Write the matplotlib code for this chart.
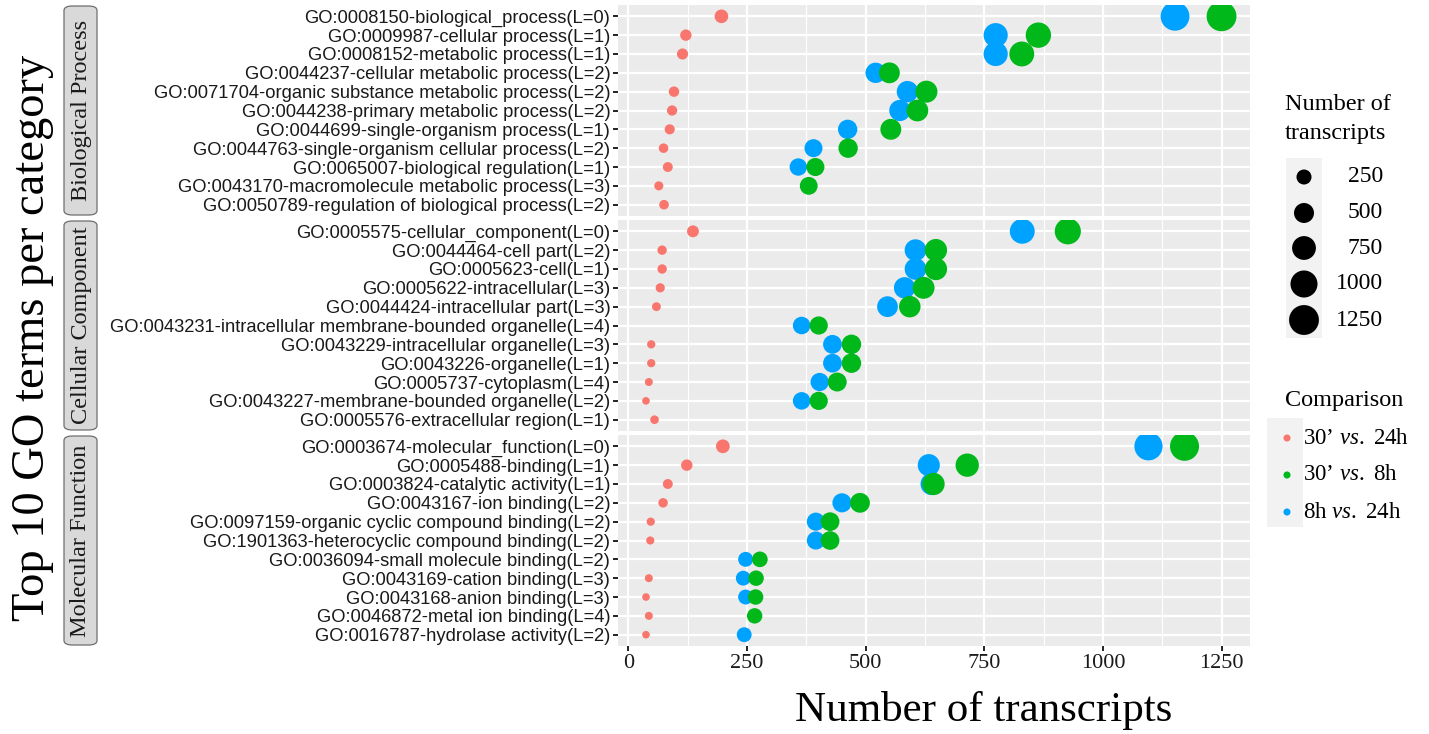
import numpy as np
import matplotlib
matplotlib.use("Agg")
import matplotlib.pyplot as plt
from matplotlib.patches import FancyBboxPatch

nan = np.nan

# --- данные: по 11 терминов GO на категорию ---
categories = ["Biological Process", "Cellular Component", "Molecular Function"]

terms_bp = ["GO:0008150-biological_process(L=0)",
            "GO:0009987-cellular process(L=1)",
            "GO:0008152-metabolic process(L=1)",
            "GO:0044237-cellular metabolic process(L=2)",
            "GO:0071704-organic substance metabolic process(L=2)",
            "GO:0044238-primary metabolic process(L=2)",
            "GO:0044699-single-organism process(L=1)",
            "GO:0044763-single-organism cellular process(L=2)",
            "GO:0065007-biological regulation(L=1)",
            "GO:0043170-macromolecule metabolic process(L=3)",
            "GO:0050789-regulation of biological process(L=2)"]
red_bp = [196, 121, 114, nan, 96, 92, 87, 74, 83, 64, 75]
blue_bp = [1152, 774, 774, 521, 588, 572, 462, 390, 358, nan, nan]
green_bp = [1250, 864, 829, 550, 628, 609, 553, 463, 394, 380, nan]

terms_cc = ["GO:0005575-cellular_component(L=0)",
            "GO:0044464-cell part(L=2)",
            "GO:0005623-cell(L=1)",
            "GO:0005622-intracellular(L=3)",
            "GO:0044424-intracellular part(L=3)",
            "GO:0043231-intracellular membrane-bounded organelle(L=4)",
            "GO:0043229-intracellular organelle(L=3)",
            "GO:0043226-organelle(L=1)",
            "GO:0005737-cytoplasm(L=4)",
            "GO:0043227-membrane-bounded organelle(L=2)",
            "GO:0005576-extracellular region(L=1)"]
red_cc = [136, 71, 71, 67, 59, nan, 48, 48, 43, 37, 55]
blue_cc = [830, 605, 605, 582, 546, 365, 430, 430, 403, 365, nan]
green_cc = [926, 648, 648, 622, 593, 401, 470, 470, 440, 401, nan]

terms_mf = ["GO:0003674-molecular_function(L=0)",
            "GO:0005488-binding(L=1)",
            "GO:0003824-catalytic activity(L=1)",
            "GO:0043167-ion binding(L=2)",
            "GO:0097159-organic cyclic compound binding(L=2)",
            "GO:1901363-heterocyclic compound binding(L=2)",
            "GO:0036094-small molecule binding(L=2)",
            "GO:0043169-cation binding(L=3)",
            "GO:0043168-anion binding(L=3)",
            "GO:0046872-metal ion binding(L=4)",
            "GO:0016787-hydrolase activity(L=2)"]
red_mf = [199, 123, 83, 73, 47, 46, nan, 43, 37, 43, 37]
blue_mf = [1096, 633, 639, 450, 395, 395, 247, 242, 247, nan, 244]
green_mf = [1172, 714, 643, 488, 425, 425, 277, 269, 268, 266, nan]

comparisons = ["30\u2019 vs. 24h", "30\u2019 vs. 8h", "8h vs. 24h"]
size_breaks = [250, 500, 750, 1000, 1250]
x_ticks = [0, 250, 500, 750, 1000, 1250]

RED, GREEN, BLUE = "#F8766D", "#00B81A", "#00A2FF"
SERIF = "Liberation Serif"
SANS = "Liberation Sans"

plt.rcParams["mathtext.fontset"] = "custom"
plt.rcParams["mathtext.rm"] = SERIF
plt.rcParams["mathtext.it"] = SERIF + ":italic"

W, H = 1429, 734
fig = plt.figure(figsize=(W / 100, H / 100), dpi=100)


def px_rect(x0, y0, x1, y1):
    # пиксели (сверху вниз) -> доли фигуры
    return [x0 / W, 1 - y1 / H, (x1 - x0) / W, (y1 - y0) / H]


def dot_size(v):
    d_px = 3.0 + 0.76 * np.sqrt(np.asarray(v, dtype=float))
    return (d_px * 0.72) ** 2


panels = [(terms_bp, red_bp, green_bp, blue_bp, 5, 216),
          (terms_cc, red_cc, green_cc, blue_cc, 220, 431),
          (terms_mf, red_mf, green_mf, blue_mf, 435, 646)]

for i, (terms, red, green, blue, top, bottom) in enumerate(panels):
    ax = fig.add_axes(px_rect(618, top, 1250, bottom))
    ax.set_facecolor("#EBEBEB")
    y = np.arange(len(terms))
    for vals, col in [(red, RED), (blue, BLUE), (green, GREEN)]:
        vals = np.asarray(vals, dtype=float)
        ok = ~np.isnan(vals)
        ax.scatter(vals[ok], y[ok], s=dot_size(vals[ok]), color=col,
                   edgecolors="none", zorder=3)
    ax.set_xlim(-22, 1310)
    ax.set_ylim(len(terms) - 0.4, -0.6)
    ax.set_yticks(y)
    ax.set_yticklabels(terms, fontfamily=SANS, fontsize=13.2, color="#1A1A1A")
    ax.set_xticks(x_ticks)
    ax.set_xticks([125, 375, 625, 875, 1125], minor=True)
    ax.grid(True, which="major", color="white", lw=1.6, zorder=0)
    ax.grid(True, which="minor", axis="x", color="white", lw=0.8, zorder=0)
    ax.set_axisbelow(True)
    for s in ax.spines.values():
        s.set_visible(False)
    ax.tick_params(axis="both", which="major", length=3.5, width=1.4,
                   color="#222222", pad=2)
    ax.tick_params(axis="both", which="minor", length=0)
    if i < 2:
        ax.tick_params(axis="x", labelbottom=False, length=0)
    else:
        ax.set_xticklabels([str(t) for t in x_ticks], fontfamily=SERIF,
                           fontsize=16, color="#1A1A1A")
        ax.set_xlabel("Number of transcripts", fontfamily=SERIF,
                      fontsize=31)
        ax.xaxis.set_label_coords(0.579, -0.215)

    # полоска фасета слева
    box = FancyBboxPatch((64 / W, 1 - (bottom - 1) / H), 33 / W,
                         (bottom - top - 2) / H,
                         boxstyle="round,pad=0,rounding_size=0.006",
                         transform=fig.transFigure, facecolor="#D9D9D9",
                         edgecolor="#6E6E6E", lw=0.9)
    fig.patches.append(box)
    fig.text(81 / W, 1 - (top + bottom) / 2 / H, categories[i],
             rotation=90, ha="center", va="center", fontfamily=SERIF,
             fontsize=17.5, color="#1A1A1A")

fig.text(33 / W, 1 - 338 / H, "Top 10 GO terms per category", rotation=90,
         ha="center", va="center", fontfamily=SERIF, fontsize=33.5)

# легенда размера
fig.text(1285 / W, 1 - 105 / H, "Number of", fontfamily=SERIF, fontsize=17.5,
         va="center")
fig.text(1285 / W, 1 - 134 / H, "transcripts", fontfamily=SERIF,
         fontsize=17.5, va="center")
lax = fig.add_axes(px_rect(1286, 158, 1322, 338))
lax.set_xlim(1286, 1322)
lax.set_ylim(338, 158)
lax.axis("off")
lax.add_patch(plt.Rectangle((1286, 158), 36, 180, color="#F2F2F2", zorder=0))
ys = [177, 213, 248, 284, 320]
lax.scatter([1304] * 5, ys, s=dot_size(size_breaks), color="black",
            edgecolors="none", zorder=2)
for yy, b in zip(ys, size_breaks):
    fig.text(1383 / W, 1 - yy / H, str(b), ha="right", va="center",
             fontfamily=SERIF, fontsize=17)

# легенда цвета
fig.text(1285 / W, 1 - 400 / H, "Comparison", fontfamily=SERIF,
         fontsize=17.5, va="center")
cax = fig.add_axes(px_rect(1267, 418, 1303, 527))
cax.set_xlim(1267, 1303)
cax.set_ylim(527, 418)
cax.axis("off")
cax.add_patch(plt.Rectangle((1267, 418), 36, 109, color="#F2F2F2", zorder=0))
cys = [438, 475, 512]
cax.scatter([1287] * 3, cys, s=26, color=[RED, GREEN, BLUE],
            edgecolors="none", zorder=2)
for yy, lab in zip(cys, comparisons):
    a, b = lab.split(" vs. ")
    fig.text(1303 / W, 1 - yy / H, a + r" $\mathit{vs.}$ " + b, va="center",
             fontfamily=SERIF, fontsize=16.5)

fig.savefig("out.png", dpi=100)
